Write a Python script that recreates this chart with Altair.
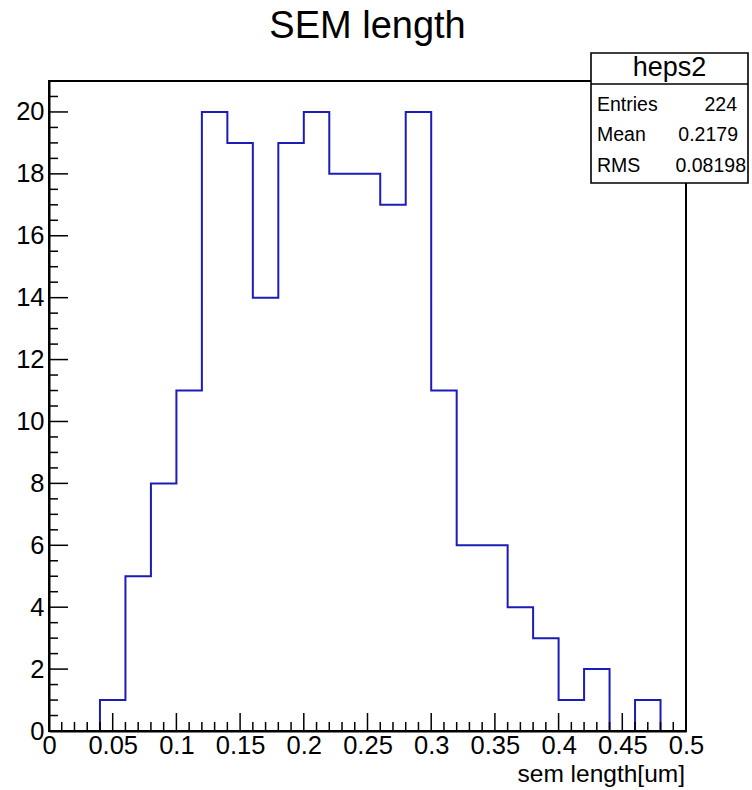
import altair as alt
import pandas as pd

# ---- data -------------------------------------------------------------
bin_low = [0.00, 0.02, 0.04, 0.06, 0.08, 0.10, 0.12, 0.14, 0.16, 0.18,
           0.20, 0.22, 0.24, 0.26, 0.28, 0.30, 0.32, 0.34, 0.36, 0.38,
           0.40, 0.42, 0.44, 0.46, 0.48]
counts = [0, 0, 1, 5, 8, 11, 20, 19, 14, 19,
          20, 18, 18, 17, 20, 11, 6, 6, 4, 3,
          1, 2, 0, 1, 0]
x_upper = 0.50
x_tick_labels = [0, 0.05, 0.1, 0.15, 0.2, 0.25, 0.3, 0.35, 0.4, 0.45, 0.5]
y_tick_labels = [0, 2, 4, 6, 8, 10, 12, 14, 16, 18, 20]
stat_name = "heps2"
stat_labels = ["Entries", "Mean", "RMS"]
stat_values = ["224", "0.2179", "0.08198"]
title_text = "SEM length"
x_title = "sem length[um]"

# ---- layout -----------------------------------------------------------
W, H = 637, 650
FONT = "Liberation Sans"
LINE = "#1c1cb8"

step_df = pd.DataFrame({"x": bin_low + [x_upper], "y": counts + [counts[-1]]})

xs = alt.Scale(domain=[0, 0.5], nice=False, zero=False)
ys = alt.Scale(domain=[0, 21], nice=False, zero=True)

x_major = [round(i * 0.05, 4) for i in range(11)]
x_minor = [round(i * 0.01, 4) for i in range(51) if i % 5 != 0]
y_major = [i * 2 for i in range(11)]
y_minor = [i * 0.5 for i in range(43) if i % 4 != 0]

base_axes = alt.Chart(step_df).mark_line(opacity=0).encode(
    x=alt.X("x:Q", scale=xs,
            axis=alt.Axis(values=x_tick_labels, title=None, ticks=False,
                          labelFontSize=25.5, labelFont=FONT, labelColor="black",
                          labelPadding=2, labelFlush=False, labelOverlap=False,
                          domainColor="black", domainWidth=2, grid=False,
                          labelExpr="format(datum.value, '.2~f')")),
    y=alt.Y("y:Q", scale=ys,
            axis=alt.Axis(values=y_tick_labels, title=None, ticks=False,
                          labelFontSize=25.5, labelFont=FONT, labelColor="black",
                          labelPadding=5, labelFlush=False, labelOverlap=False,
                          domainColor="black", domainWidth=2, grid=False)),
)

hist = alt.Chart(step_df).mark_line(interpolate="step-after", color=LINE,
                                    strokeWidth=2).encode(
    x=alt.X("x:Q", scale=xs), y=alt.Y("y:Q", scale=ys))


def xticks(vals, length):
    return alt.Chart(pd.DataFrame({"t": vals})).mark_rule(
        color="black", strokeWidth=1.5).encode(
        x=alt.X("t:Q", scale=xs), y=alt.value(H), y2=alt.value(H - length))


def yticks(vals, length):
    return alt.Chart(pd.DataFrame({"t": vals})).mark_rule(
        color="black", strokeWidth=1.5).encode(
        y=alt.Y("t:Q", scale=ys), x=alt.value(0), x2=alt.value(length))


frame = alt.Chart(step_df).mark_rect(fill=None, stroke="black",
                                     strokeWidth=2).encode(
    x=alt.value(0), x2=alt.value(W), y=alt.value(0), y2=alt.value(H))

one = pd.DataFrame({"a": [0]})

stat_box = alt.Chart(one).mark_rect(fill="white", stroke="black",
                                    strokeWidth=1.6).encode(
    x=alt.value(542), x2=alt.value(699), y=alt.value(-28), y2=alt.value(102))
stat_sep = alt.Chart(one).mark_rule(color="black", strokeWidth=1.6).encode(
    x=alt.value(542), x2=alt.value(699), y=alt.value(3))
stat_title = alt.Chart(one).mark_text(text=stat_name, fontSize=27, font=FONT,
                                      align="center", baseline="alphabetic").encode(
    x=alt.value(620.5), y=alt.value(-5))

stat_layers = []
row_y = [30, 60, 91]
val_x = [688, 689, 697]
for lab, val, yy, vx in zip(stat_labels, stat_values, row_y, val_x):
    stat_layers.append(alt.Chart(one).mark_text(
        text=lab, fontSize=19.5, font=FONT, align="left", baseline="alphabetic"
    ).encode(x=alt.value(548), y=alt.value(yy)))
    stat_layers.append(alt.Chart(one).mark_text(
        text=val, fontSize=19.5, font=FONT, align="right", baseline="alphabetic"
    ).encode(x=alt.value(vx), y=alt.value(yy)))

title = alt.Chart(one).mark_text(text=title_text, fontSize=38, font=FONT,
                                 align="center", baseline="alphabetic").encode(
    x=alt.value(W / 2), y=alt.value(-43))
xtitle = alt.Chart(one).mark_text(text=x_title, fontSize=24.5, font=FONT,
                                  align="right", baseline="alphabetic").encode(
    x=alt.value(W - 1), y=alt.value(701))

chart = alt.layer(
    base_axes, hist,
    xticks(x_major, 18), xticks(x_minor, 9),
    yticks(y_major, 19), yticks(y_minor, 9),
    frame, stat_box, stat_sep, stat_title, *stat_layers, title, xtitle,
).properties(
    width=W, height=H,
    autosize=alt.AutoSizeParams(type="none"),
    padding={"left": 49, "top": 81, "right": 66, "bottom": 59},
    background="white",
).configure_view(stroke=None)

chart.save("out.html", embed_options={"renderer": "svg", "actions": False})
